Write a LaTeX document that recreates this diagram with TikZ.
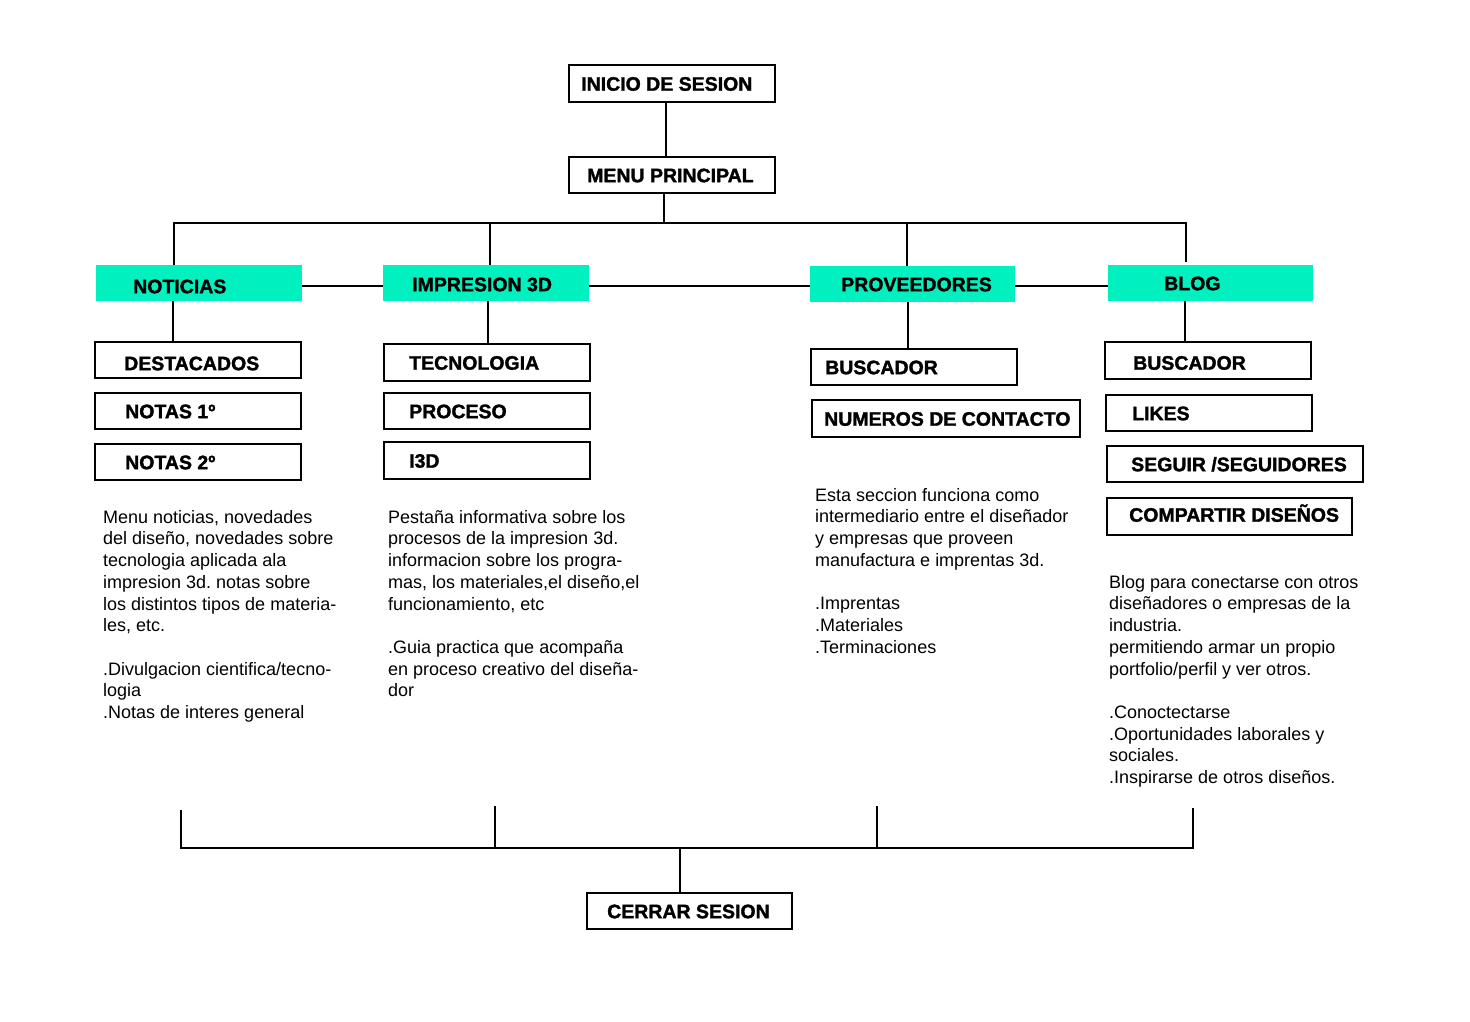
\documentclass[tikz,border=0pt]{standalone}
\usepackage{fontspec}
\setmainfont{Liberation Sans}
\newfontfamily\heavyfont{Liberation Sans}[BoldFeatures={FakeBold=1.6}]
\definecolor{turq}{RGB}{0,240,192}
\tikzset{
  lab/.style={font=\fontsize{19.5}{22}\selectfont\heavyfont\bfseries, inner ysep=0pt, anchor=north west, text height=14pt, text depth=0pt},
  outl/.style={lab, draw=black, line width=2.4pt},
  fillb/.style={lab, fill=turq},
  conn/.style={line width=2pt},
  body/.style={font=\fontsize{18}{21.7}\selectfont, align=left, anchor=north west, inner sep=0pt},
}
% style, name, x, y, width, height, left pad, text
\newcommand\bx[8]{\node[#1, minimum height=#6pt, inner xsep=#7pt] (#2) at (#3,#4) {\makebox[\dimexpr#5pt-#7pt-#7pt\relax][l]{#8}};}
\frenchspacing
\begin{document}
\begin{tikzpicture}[x=1pt,y=-1pt]
\fill[white] (0,0) rectangle (1470,1022);
\useasboundingbox (0,0) rectangle (1470,1022);

\bx{outl}{inicio}{568}{64}{206}{37}{12}{INICIO DE SESION}
\bx{outl}{menu}{568}{156}{206}{36}{18}{MENU PRINCIPAL}

\bx{fillb,text height=20pt}{noticias}{96}{265}{206}{36}{37}{NOTICIAS}
\bx{fillb,text height=16pt}{imp}{383}{265}{206}{36}{29}{IMPRESION 3D}
\bx{fillb}{prov}{810}{266}{205}{36}{31}{PROVEEDORES}
\bx{fillb}{blog}{1108}{265}{205}{36}{56}{BLOG}

\bx{outl,text height=20pt}{dest}{94}{341}{206}{36}{29}{DESTACADOS}
\bx{outl}{nota1}{94}{392}{206}{36}{30}{NOTAS 1º}
\bx{outl}{nota2}{94}{443}{206}{36}{30}{NOTAS 2º}

\bx{outl}{tec}{383}{343}{206}{37}{25}{TECNOLOGIA}
\bx{outl}{proc}{383}{392}{206}{36}{25}{PROCESO}
\bx{outl}{itres}{383}{441}{206}{37}{25}{I3D}

\bx{outl}{bus1}{810}{348}{206}{36}{14}{BUSCADOR}
\bx{outl}{num}{811}{399}{268}{37}{12}{NUMEROS DE CONTACTO}

\bx{outl,text height=18pt}{bus2}{1104}{341}{206}{37}{28}{BUSCADOR}
\bx{outl}{likes}{1105}{394}{206}{36}{26}{LIKES}
\bx{outl}{seguir}{1106}{445}{256}{36}{24}{SEGUIR /SEGUIDORES}
\bx{outl,text height=10pt}{compartir}{1106}{497}{245}{37}{22}{COMPARTIR DISEÑOS}

\bx{outl}{cerrar}{586}{892}{205}{36}{20}{CERRAR SESION}

% body texts
\node[body] (tnot) at (103,510) {Menu noticias, novedades\\del diseño, novedades sobre\\tecnologia aplicada ala\\impresion 3d. notas sobre\\los distintos tipos de materia-\\les, etc.\\[21.7pt].Divulgacion cientifica/tecno-\\logia\\.Notas de interes general};
\node[body] (timp) at (388,510) {Pestaña informativa sobre los\\procesos de la impresion 3d.\\informacion sobre los progra-\\mas, los materiales,el diseño,el\\funcionamiento, etc\\[21.7pt].Guia practica que acompaña\\en proceso creativo del diseña-\\dor};
\node[body] (tprov) at (815,488) {Esta seccion funciona como\\intermediario entre el diseñador\\y empresas que proveen\\manufactura e imprentas 3d.\\[21.7pt].Imprentas\\.Materiales\\.Terminaciones};
\node[body] (tblog) at (1109,575) {Blog para conectarse con otros\\diseñadores o empresas de la\\industria.\\permitiendo armar un propio\\portfolio/perfil y ver otros.\\[21.7pt].Conoctectarse\\.Oportunidades laborales y\\sociales.\\.Inspirarse de otros diseños.};

% top connectors
\draw[conn] ([xshift=-6pt]inicio.south) -- ([xshift=-6pt]menu.north);
\coordinate (tL) at (174,223);
\coordinate (t2) at (490,223);
\coordinate (t3) at (907,223);
\coordinate (tR) at (1186,223);
\draw[conn] ([xshift=-8pt]menu.south) -- ([xshift=-8pt]menu.south |- tL);
\draw[conn] ([xshift=-1pt]tL) -- ([xshift=1pt]tR);
\draw[conn] (tL) -- (tL |- noticias.north);
\draw[conn] (t2) -- (t2 |- imp.north);
\draw[conn] (t3) -- (t3 |- prov.north);
\draw[conn] (tR) -- ([yshift=3pt]tR |- blog.north);

% horizontal chain
\draw[conn] ([yshift=-3pt]noticias.east) -- ([yshift=-3pt]imp.west);
\draw[conn] ([yshift=-3pt]imp.east) -- ([yshift=-3pt]imp.east -| prov.west);
\draw[conn] ([yshift=-2pt]prov.east) -- ([yshift=-2pt]prov.east -| blog.west);

% down connectors
\coordinate (dL) at (173,0);
\coordinate (d2) at (488,0);
\coordinate (d3) at (908,0);
\coordinate (dR) at (1185,0);
\draw[conn] (noticias.south -| dL) -- (dest.north -| dL);
\draw[conn] (imp.south -| d2) -- (tec.north -| d2);
\draw[conn] (prov.south -| d3) -- (bus1.north -| d3);
\draw[conn] (blog.south -| dR) -- (bus2.north -| dR);

% bottom bus
\coordinate (b1) at (181,810);
\coordinate (b2) at (495,806);
\coordinate (b3) at (877,806);
\coordinate (b4) at (1193,808);
\coordinate (bb) at (0,848);
\coordinate (bm) at (680,848);
\draw[conn] (b1) -- (b1 |- bb);
\draw[conn] (b2) -- (b2 |- bb);
\draw[conn] (b3) -- (b3 |- bb);
\draw[conn] (b4) -- (b4 |- bb);
\draw[conn] ([xshift=-1pt]b1 |- bb) -- ([xshift=1pt]b4 |- bb);
\draw[conn] (bm) -- (bm |- cerrar.north);
\end{tikzpicture}
\end{document}
